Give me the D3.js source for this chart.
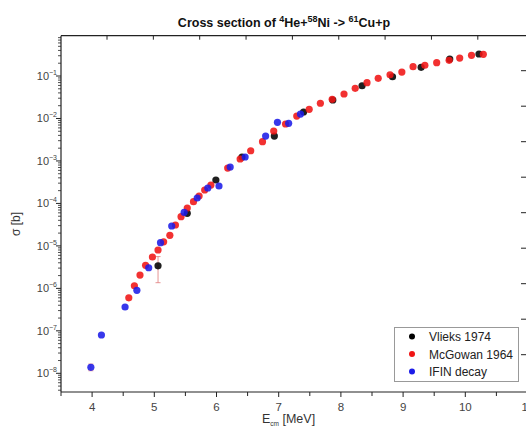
<!DOCTYPE html>
<html>
<head>
<meta charset="utf-8">
<script src="https://cdn.jsdelivr.net/npm/d3@7.9.0/dist/d3.min.js"></script>
<style>
  body { margin: 0; background: #fff; }
  svg { display: block; font-family: "Liberation Sans", Arial, sans-serif; }
</style>
</head>
<body>
<svg id="chart" width="526" height="430"></svg>
<script>
// Data: energy in MeV, cross section in barn
const vlieksE     = [5.06, 5.53, 5.99, 6.41, 6.93, 7.40, 7.87, 8.34, 8.83, 9.29, 9.75, 10.22];
const vlieksSigma = [3.4e-6, 5.85e-5, 3.56e-4, 1.24e-3, 3.86e-3, 1.42e-2, 2.72e-2, 5.9e-2, 9.6e-2, 0.160, 0.251, 0.330];

const mcgowanE     = [4.59, 4.68, 4.77, 4.86, 4.97, 5.06, 5.15, 5.25, 5.34, 5.43, 5.53, 5.63, 5.72, 5.81, 5.91,
                      6.18, 6.38, 6.55, 6.74, 6.92, 7.11, 7.29, 7.49, 7.67, 7.86, 8.05, 8.23, 8.42, 8.60, 8.79,
                      8.98, 9.16, 9.35, 9.54, 9.74, 9.91, 10.10, 10.29];
const mcgowanSigma = [6.0e-7, 1.15e-6, 2.06e-6, 3.49e-6, 5.47e-6, 8.0e-6, 1.25e-5, 1.77e-5, 3.1e-5, 4.87e-5, 7.8e-5, 1.10e-4, 1.49e-4, 2.07e-4, 2.71e-4,
                      6.8e-4, 1.11e-3, 1.74e-3, 2.84e-3, 5.07e-3, 7.41e-3, 1.14e-2, 1.64e-2, 2.28e-2, 2.83e-2, 3.77e-2, 5.13e-2, 6.95e-2, 8.83e-2, 0.107,
                      0.124, 0.166, 0.179, 0.206, 0.234, 0.265, 0.307, 0.324];

const ifinE     = [3.98, 4.15, 4.53, 4.72, 4.91, 5.10, 5.28, 5.48, 5.69, 5.86, 6.04, 6.22, 6.46, 6.79, 6.98, 7.16, 7.35];
const ifinSigma = [1.38e-8, 7.98e-8, 3.64e-7, 9.0e-7, 3.06e-6, 1.19e-5, 2.94e-5, 6.18e-5, 1.34e-4, 2.31e-4, 2.57e-4, 7.2e-4, 1.24e-3, 3.86e-3, 8.1e-3, 7.7e-3, 1.27e-2];

// error bars (energy, low, high)
const errE  = [5.06, 3.98];
const errLo = [1.36e-6, 1.15e-8];
const errHi = [5.6e-6, 1.65e-8];

const xTicks      = [4, 5, 6, 7, 8, 9, 10, 11];
const xMinorTicks = [3.5, 4.5, 5.5, 6.5, 7.5, 8.5, 9.5, 10.5];
const yExponents  = [-8, -7, -6, -5, -4, -3, -2, -1];
const topTicks    = [1, 2, 3, 4, 5, 6, 7, 8, 9];
const rightTicks  = [1, 2, 3, 4, 5, 6, 7, 8, 9];

const seriesNames  = ['Vlieks 1974', 'McGowan 1964', 'IFIN decay'];
const seriesColors = ['#000000', '#f01414', '#1c1ce8'];

const svg = d3.select('#chart');
const plotLeft = 61, plotTop = 35.7, plotBottom = 392;

const x = d3.scaleLinear().domain([3.5, 11.2]).range([plotLeft, plotLeft + 7.7 * 62.2]);
const y = d3.scaleLog().domain([3.63e-9, 0.889]).range([plotBottom, plotTop]);

// stray ticks on the top and right edges
const xTop = d3.scaleLinear().domain([0, 10]).range([60.65, 524.15]);
const yRight = d3.scaleLinear().domain([0, 10]).range([35.2, 390.2]);

const axisColor = '#222';
const labelColor = '#444';

// frame lines
svg.append('line').attr('x1', plotLeft).attr('x2', 526).attr('y1', plotTop).attr('y2', plotTop)
  .attr('stroke', axisColor).attr('stroke-width', 1.2);
svg.append('line').attr('x1', plotLeft).attr('x2', 526).attr('y1', plotBottom).attr('y2', plotBottom)
  .attr('stroke', axisColor).attr('stroke-width', 1.2);
svg.append('line').attr('x1', plotLeft).attr('x2', plotLeft).attr('y1', plotTop).attr('y2', plotBottom)
  .attr('stroke', axisColor).attr('stroke-width', 1.2);

// top ticks, pointing in
svg.append('g').selectAll('line').data(topTicks).join('line')
  .attr('x1', d => xTop(d)).attr('x2', d => xTop(d))
  .attr('y1', plotTop).attr('y2', plotTop + 4)
  .attr('stroke', axisColor);

// right ticks, pointing in
svg.append('g').selectAll('line').data(rightTicks).join('line')
  .attr('x1', 521).attr('x2', 526)
  .attr('y1', d => yRight(d)).attr('y2', d => yRight(d))
  .attr('stroke', axisColor);

// bottom axis
svg.append('g').selectAll('line').data(xTicks).join('line')
  .attr('x1', d => x(d)).attr('x2', d => x(d))
  .attr('y1', plotBottom).attr('y2', plotBottom + 5)
  .attr('stroke', axisColor);
svg.append('g').selectAll('line').data(xMinorTicks).join('line')
  .attr('x1', d => x(d)).attr('x2', d => x(d))
  .attr('y1', plotBottom).attr('y2', plotBottom + 4)
  .attr('stroke', axisColor);
svg.append('g').selectAll('text').data(xTicks).join('text')
  .attr('x', d => x(d)).attr('y', plotBottom + 19)
  .attr('text-anchor', 'middle')
  .attr('font-size', 11.5)
  .attr('fill', labelColor)
  .text(d => d);

// left axis: decades plus minor log ticks
const minorY = [];
yExponents.concat([-9, 0]).forEach(e => {
  for (let m = 2; m <= 9; m++) {
    const v = m * Math.pow(10, e);
    if (v >= y.domain()[0] && v <= y.domain()[1]) minorY.push(v);
  }
});
svg.append('g').selectAll('line').data(minorY).join('line')
  .attr('x1', plotLeft - 3).attr('x2', plotLeft)
  .attr('y1', d => y(d)).attr('y2', d => y(d))
  .attr('stroke', axisColor).attr('stroke-width', 0.8);
svg.append('g').selectAll('line').data(yExponents).join('line')
  .attr('x1', plotLeft - 5).attr('x2', plotLeft)
  .attr('y1', d => y(Math.pow(10, d))).attr('y2', d => y(Math.pow(10, d)))
  .attr('stroke', axisColor);
const yLabels = svg.append('g').selectAll('text').data(yExponents).join('text')
  .attr('x', plotLeft - 4).attr('y', d => y(Math.pow(10, d)) + 4)
  .attr('text-anchor', 'end')
  .attr('font-size', 11)
  .attr('fill', labelColor);
yLabels.append('tspan').text('10');
yLabels.append('tspan').attr('dy', -5).attr('font-size', 7).text(d => '\u2212' + (-d));

// axis titles
const xTitle = svg.append('text').attr('x', 262).attr('y', 423)
  .attr('font-size', 12.5).attr('fill', '#333');
xTitle.append('tspan').text('E');
xTitle.append('tspan').attr('dy', 3).attr('font-size', 6.5).text('cm');
xTitle.append('tspan').attr('dy', -3).text(' [MeV]');

svg.append('text')
  .attr('transform', 'translate(20,224) rotate(-90)')
  .attr('text-anchor', 'middle')
  .attr('font-size', 12)
  .attr('fill', '#333')
  .text('\u03c3 [b]');

// title
const title = svg.append('text').attr('x', 284).attr('y', 27)
  .attr('text-anchor', 'middle')
  .attr('font-size', 12.5).attr('font-weight', 'bold').attr('fill', '#111');
title.append('tspan').text('Cross section of ');
title.append('tspan').attr('dy', -5).attr('font-size', 9).text('4');
title.append('tspan').attr('dy', 5).text('He+');
title.append('tspan').attr('dy', -5).attr('font-size', 9).text('58');
title.append('tspan').attr('dy', 5).text('Ni -> ');
title.append('tspan').attr('dy', -5).attr('font-size', 9).text('61');
title.append('tspan').attr('dy', 5).text('Cu+p');

// error bars
const errG = svg.append('g').attr('stroke', '#e07878').attr('stroke-width', 0.8);
errE.forEach((e, i) => {
  errG.append('line').attr('x1', x(e)).attr('x2', x(e)).attr('y1', y(errLo[i])).attr('y2', y(errHi[i]));
  errG.append('line').attr('x1', x(e) - 2.5).attr('x2', x(e) + 2.5).attr('y1', y(errLo[i])).attr('y2', y(errLo[i]));
  errG.append('line').attr('x1', x(e) - 2.5).attr('x2', x(e) + 2.5).attr('y1', y(errHi[i])).attr('y2', y(errHi[i]));
});

// points: black, then red, then blue on top
const series = [
  [vlieksE, vlieksSigma],
  [mcgowanE, mcgowanSigma],
  [ifinE, ifinSigma]
];
series.forEach(([es, sig], k) => {
  svg.append('g').selectAll('circle').data(es).join('circle')
    .attr('cx', d => x(d))
    .attr('cy', (d, i) => y(sig[i]))
    .attr('r', 3.6)
    .attr('fill', seriesColors[k])
    .attr('fill-opacity', 0.88);
});

// legend
const legend = svg.append('g');
legend.append('rect')
  .attr('x', 394.5).attr('y', 327.5).attr('width', 124).attr('height', 54)
  .attr('fill', '#fff').attr('stroke', '#999');
seriesNames.forEach((name, i) => {
  const ly = 336.5 + i * 17.5;
  legend.append('circle').attr('cx', 412).attr('cy', ly).attr('r', 3).attr('fill', seriesColors[i]);
  legend.append('text').attr('x', 429).attr('y', ly + 4.5)
    .attr('font-size', 12).attr('fill', '#222').text(name);
});
</script>
</body>
</html>
